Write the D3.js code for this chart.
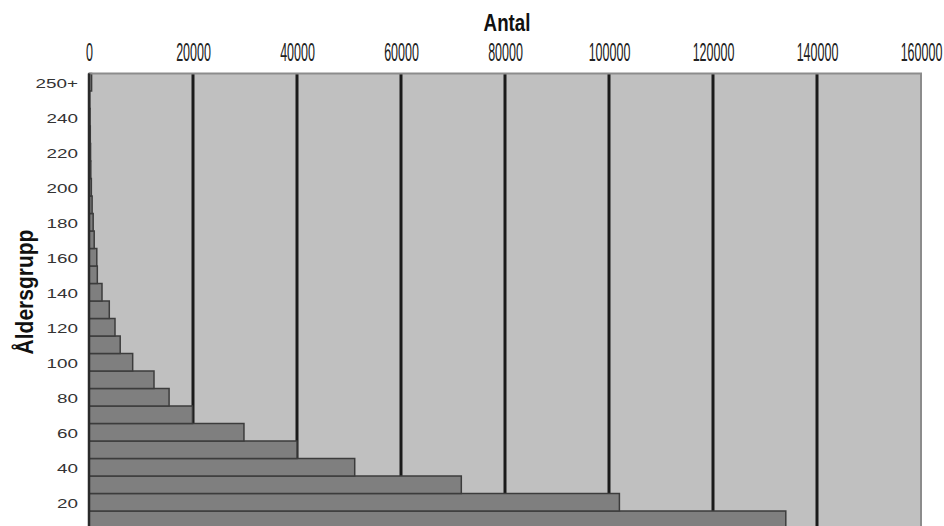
<!DOCTYPE html>
<html>
<head>
<meta charset="utf-8">
<script src="https://cdn.jsdelivr.net/npm/d3@7"></script>
<style>
  html, body { margin: 0; padding: 0; background: #ffffff; }
  svg { display: block; }
</style>
</head>
<body>
<svg id="chart" width="944" height="526"></svg>
<script>
// ---- data ----
const categories = ["10","20","30","40","50","60","70","80","90","100",
                    "110","120","130","140","150","160","170","180","190","200",
                    "210","220","230","240","250","250+"];
const counts = [134000, 102000, 71600, 51100, 40000, 29800, 19900, 15400, 12500, 8400,
                6000, 5000, 3900, 2500, 1600, 1500, 1000, 800, 600, 450,
                350, 300, 250, 200, 150, 500];
const yTickLabels = ["250+","240","220","200","180","160","140","120","100","80","60","40","20"];
const xTicks = [0, 20000, 40000, 60000, 80000, 100000, 120000, 140000, 160000];
const xTitle = "Antal";
const yTitle = "Åldersgrupp";

// ---- layout ----
const W = 944, H = 526;
const plotLeft = 89, plotRight = 921, plotTop = 73.5;
const band = 17.5;
const plotBottom = plotTop + band * categories.length;

const svg = d3.select("#chart");
const font = "'Liberation Sans', Arial, sans-serif";

const x = d3.scaleLinear().domain([0, 160000]).range([plotLeft, plotRight]);
const y = d3.scaleBand().domain(categories.slice().reverse())
  .range([plotTop, plotBottom]).padding(0);

const data = categories.map((c, i) => ({ cat: c, v: counts[i] }));

// plot background
svg.append("rect")
  .attr("x", plotLeft).attr("y", plotTop)
  .attr("width", plotRight - plotLeft).attr("height", plotBottom - plotTop)
  .attr("fill", "#c0c0c0");

// gridlines (behind bars)
svg.append("g").selectAll("line")
  .data(xTicks.filter(t => t > 0 && t < 160000))
  .join("line")
  .attr("x1", d => x(d)).attr("x2", d => x(d))
  .attr("y1", plotTop).attr("y2", plotBottom)
  .attr("stroke", "#1a1a1a").attr("stroke-width", 3);

// bars
svg.append("g").selectAll("rect")
  .data(data)
  .join("rect")
  .attr("x", x(0))
  .attr("y", d => y(d.cat))
  .attr("width", d => x(d.v) - x(0))
  .attr("height", y.bandwidth())
  .attr("fill", "#7f7f7f")
  .attr("stroke", "#3c3c3c")
  .attr("stroke-width", 1.5);

// plot border (top and right)
svg.append("path")
  .attr("d", `M${plotLeft},${plotTop}H${plotRight}V${plotBottom}`)
  .attr("fill", "none").attr("stroke", "#8c8c8c").attr("stroke-width", 2);

// top axis
const xAxis = d3.axisTop(x).tickValues(xTicks).tickSize(0).tickFormat(d => String(d));
const gx = svg.append("g").attr("transform", `translate(0,${plotTop})`).call(xAxis);
gx.select(".domain").remove();
gx.selectAll("text")
  .attr("y", 61 - plotTop).attr("dy", 0)
  .attr("transform", "scale(0.5,1)")
  .attr("font-family", font).attr("font-size", 25)
  .attr("fill", "#222");

// left axis
const yAxis = d3.axisLeft(y).tickValues(yTickLabels).tickSize(0);
const gy = svg.append("g").attr("transform", `translate(${plotLeft},0)`).call(yAxis);
gy.select(".domain").remove();
gy.selectAll("text")
  .attr("x", 0).attr("dy", "0.45em")
  .attr("text-anchor", "end")
  .attr("transform", `translate(${78 - plotLeft},0) scale(1.45,1)`)
  .attr("font-family", font).attr("font-size", 13)
  .attr("fill", "#333");

// left axis line
svg.append("line")
  .attr("x1", plotLeft).attr("x2", plotLeft)
  .attr("y1", plotTop).attr("y2", plotBottom)
  .attr("stroke", "#2a2a2a").attr("stroke-width", 2.5);

// axis titles
svg.append("text")
  .attr("transform", "translate(507,31) scale(0.78,1)")
  .attr("text-anchor", "middle")
  .attr("font-family", font).attr("font-size", 24).attr("font-weight", "bold")
  .attr("fill", "#111")
  .text(xTitle);

svg.append("text")
  .attr("transform", "translate(33,292) rotate(-90) scale(0.876,1)")
  .attr("text-anchor", "middle")
  .attr("font-family", font).attr("font-size", 24).attr("font-weight", "bold")
  .attr("fill", "#111")
  .text(yTitle);
</script>
</body>
</html>
